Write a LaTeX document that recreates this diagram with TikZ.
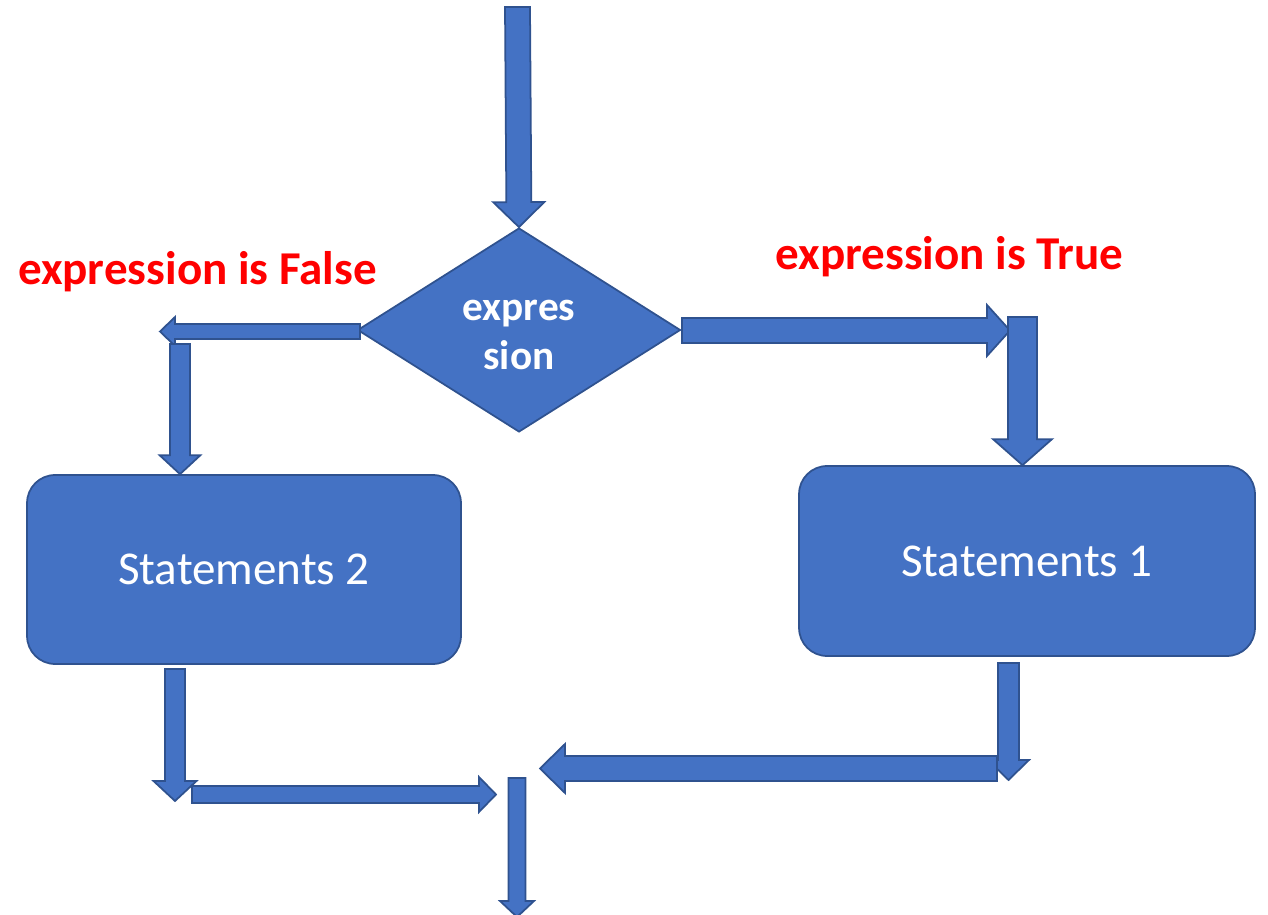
\documentclass[tikz,border=0pt]{standalone}
\usepackage{fontspec}
\setmainfont{Carlito}
\usetikzlibrary{calc,shapes.geometric}
\definecolor{blkfill}{HTML}{4472C4}
\definecolor{blkline}{HTML}{2F528F}
\definecolor{lblred}{HTML}{FF0000}
\def\pxu{0.5690551pt}
% #1 tail coordinate, #2 tip coordinate, #3 shaft half-width, #4 head half-width, #5 head length (all in px)
\newcommand{\blockarrow}[5]{%
  \coordinate (#1-hb) at ($(#2)!#5*\pxu!(#1)$);
  \draw[blk]
    ($(#1)!#3*\pxu!90:(#2)$) --
    ($(#1-hb)!#3*\pxu!90:(#2)$) --
    ($(#1-hb)!#4*\pxu!90:(#2)$) --
    (#2) --
    ($(#1-hb)!#4*\pxu!-90:(#2)$) --
    ($(#1-hb)!#3*\pxu!-90:(#2)$) --
    ($(#1)!#3*\pxu!-90:(#2)$) -- cycle;
}
\tikzset{
  blk/.style={fill=blkfill, draw=blkline, line width=1pt, line join=miter},
  decision/.style={diamond, fill=blkfill, draw=blkline, line width=1pt,
    minimum width=6.46cm, minimum height=4.08cm, inner sep=0pt},
  dtext/.style={text=white, align=center, inner sep=0pt,
    font=\fontsize{23.5pt}{28pt}\selectfont\bfseries},
  stmt/.style={rectangle, rounded corners=0.56cm, fill=blkfill, draw=blkline, line width=1pt,
    text=white, font=\fontsize{26.8pt}{31pt}\selectfont},
  lbl/.style={text=lblred, font=\fontsize{26.8pt}{32pt}\selectfont\bfseries, inner sep=0pt}
}
\begin{document}
\begin{tikzpicture}[x=0.02cm, y=-0.02cm]
\useasboundingbox (0,0) rectangle (1268,915);

% nodes
\node[decision] (cond) at (519,330) {};
\node[dtext] (condtext) at ($(cond.center)+(0,5)$) {expres\\sion};
\node[stmt, minimum width=8.68cm, minimum height=3.78cm] (s2) at (244,569.5) {Statements 2};
\node[stmt, minimum width=9.12cm, minimum height=3.80cm] (s1) at (1027,561) {Statements 1};
\node[lbl, anchor=base] (lf) at (197.5,285) {expression is False};
\node[lbl, anchor=base] (lt) at (949.5,270) {expression is True};

% coordinates for the block arrows
\coordinate (t0) at (517.5,7);
\coordinate (fl0) at (360,331.5);
\coordinate (fl1) at (160,331.5);
\coordinate (fd0) at (180,344);
\coordinate (fd1) at (s2.north -| fd0);
\coordinate (tr0) at (682,330.5);
\coordinate (tr1) at (1010,330.5);
\coordinate (td0) at (1022.5,317);
\coordinate (td1) at (s1.north -| td0);
\coordinate (o10) at (1008.5,663);
\coordinate (o11) at (1008.5,780);
\coordinate (m10) at (997,768.5);
\coordinate (m11) at (540,768.5);
\coordinate (o20) at (175,669);
\coordinate (o21) at (175,801);
\coordinate (m20) at (192,794.5);
\coordinate (m21) at (496,794.5);
\coordinate (e0) at (517,778);
\coordinate (e1) at (517,917);

% block arrows
\blockarrow{t0}{cond.north}{12.5}{25.5}{25}
\blockarrow{fl0}{fl1}{7.5}{14.5}{15}
\blockarrow{fd0}{fd1}{10}{20.5}{19}
\blockarrow{tr0}{tr1}{12.5}{25.5}{23}
\blockarrow{td0}{td1}{14.5}{29.5}{26}
\blockarrow{o10}{o11}{10.5}{20.5}{20}
\blockarrow{m10}{m11}{12.5}{24.5}{25}
\blockarrow{o20}{o21}{10}{21.5}{20}
\blockarrow{m20}{m21}{8.5}{17.5}{17}
\blockarrow{e0}{e1}{8.5}{17}{16}
\end{tikzpicture}
\end{document}
